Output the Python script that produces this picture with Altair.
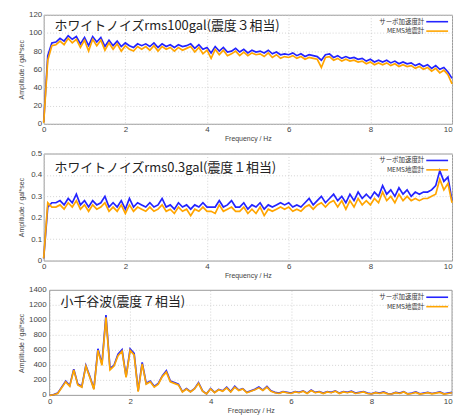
import altair as alt
import pandas as pd

freq = [round(i * 0.1, 1) for i in range(101)]
x_ticks = [0, 2, 4, 6, 8, 10]

series_names = ["サーボ加速度計", "MEMS地震計"]
series_colors = ["#2424ff", "#ffa500"]

titles = ["ホワイトノイズrms100gal(震度３相当)",
          "ホワイトノイズrms0.3gal(震度１相当)",
          "小千谷波(震度７相当)"]

# Panel 1: white noise rms100gal
p1_servo = [2, 75, 89, 90, 94, 91, 97, 93, 96, 88,
            95, 86, 96, 90, 95, 85, 92, 86, 91, 85,
            89, 86, 84, 88, 86, 88, 85, 89, 84, 88,
            85, 87, 84, 87, 85, 86, 88, 83, 87, 82,
            84, 78, 85, 80, 84, 79, 80, 83, 79, 82,
            78, 81, 79, 80, 78, 81, 77, 79, 76, 77,
            76, 78, 75, 77, 74, 76, 75, 74, 70, 76,
            77, 73, 75, 72, 74, 72, 73, 71, 72, 69,
            71, 68, 70, 68, 70, 67, 69, 66, 68, 66,
            67, 64, 66, 63, 65, 61, 64, 60, 62, 57,
            50]
p1_mems = [1, 70, 86, 87, 91, 87, 94, 89, 93, 84,
           92, 80, 93, 86, 92, 81, 89, 82, 88, 80,
           86, 82, 80, 85, 82, 85, 81, 86, 80, 85,
           82, 84, 80, 84, 81, 83, 85, 79, 84, 77,
           81, 72, 82, 76, 81, 75, 77, 80, 75, 79,
           75, 78, 76, 77, 74, 78, 73, 76, 72, 74,
           73, 75, 72, 74, 71, 73, 72, 71, 62, 73,
           74, 70, 72, 69, 71, 69, 70, 68, 69, 66,
           68, 65, 67, 65, 67, 64, 66, 63, 65, 63,
           64, 61, 63, 60, 62, 58, 61, 56, 59, 54,
           44]
p1_yticks = [0, 20, 40, 60, 80, 100, 120]

# Panel 2: white noise rms0.3gal
p2_servo = [0.01, 0.25, 0.27, 0.27, 0.28, 0.26, 0.29, 0.27, 0.31, 0.26,
            0.28, 0.25, 0.28, 0.26, 0.27, 0.30, 0.25, 0.27, 0.25, 0.28,
            0.24, 0.29, 0.25, 0.27, 0.26, 0.25, 0.27, 0.25, 0.26, 0.29,
            0.25, 0.26, 0.24, 0.27, 0.25, 0.26, 0.24, 0.26, 0.25, 0.27,
            0.25, 0.25, 0.25, 0.28, 0.25, 0.26, 0.28, 0.25, 0.25, 0.27,
            0.24, 0.26, 0.25, 0.27, 0.24, 0.26, 0.25, 0.26, 0.27, 0.26,
            0.27, 0.25, 0.26, 0.25, 0.27, 0.29, 0.26, 0.28, 0.30, 0.27,
            0.29, 0.31, 0.28, 0.30, 0.27, 0.31, 0.28, 0.32, 0.29, 0.31,
            0.29, 0.32, 0.30, 0.35, 0.31, 0.33, 0.30, 0.34, 0.31, 0.33,
            0.30, 0.32, 0.31, 0.32, 0.32, 0.33, 0.35, 0.42, 0.37, 0.39,
            0.28]
p2_mems = [0.01, 0.27, 0.25, 0.25, 0.26, 0.24, 0.27, 0.25, 0.28, 0.24,
           0.26, 0.23, 0.26, 0.24, 0.25, 0.27, 0.23, 0.25, 0.23, 0.26,
           0.22, 0.26, 0.23, 0.25, 0.24, 0.23, 0.25, 0.23, 0.24, 0.26,
           0.23, 0.24, 0.22, 0.25, 0.23, 0.24, 0.21, 0.24, 0.23, 0.25,
           0.23, 0.23, 0.22, 0.26, 0.23, 0.24, 0.25, 0.23, 0.23, 0.25,
           0.22, 0.24, 0.22, 0.25, 0.21, 0.24, 0.23, 0.24, 0.25, 0.24,
           0.25, 0.23, 0.24, 0.23, 0.25, 0.26, 0.24, 0.26, 0.27, 0.25,
           0.27, 0.28, 0.25, 0.28, 0.24, 0.28, 0.25, 0.29, 0.26, 0.28,
           0.26, 0.29, 0.27, 0.32, 0.28, 0.30, 0.27, 0.31, 0.28, 0.30,
           0.28, 0.29, 0.28, 0.29, 0.29, 0.30, 0.31, 0.38, 0.33, 0.36,
           0.27]
p2_yticks = [0, 0.1, 0.2, 0.3, 0.4, 0.5]

# Panel 3: Ojiya wave
p3_servo = [0, 10, 30, 110, 190, 130, 350, 150, 120, 400,
            250, 90, 620, 420, 1070, 360, 400, 550, 610, 250,
            620, 560, 60, 440, 160, 190, 120, 160, 260, 330,
            190, 170, 150, 50, 90, 50, 90, 170, 60, 20,
            90, 40, 80, 60, 110, 50, 120, 70, 90, 40,
            60, 80, 110, 70, 120, 60, 40, 30, 50, 40,
            30, 50, 40, 60, 30, 70, 40, 50, 30, 50,
            40, 60, 30, 50, 40, 55, 30, 40, 50, 30,
            20, 40, 30, 45, 25, 20, 40, 30, 50, 20,
            30, 45, 20, 30, 40, 25, 35, 45, 20, 30,
            40]
p3_mems = [0, 8, 25, 100, 180, 120, 340, 140, 110, 390,
           240, 80, 600, 400, 1040, 340, 390, 530, 590, 240,
           600, 540, 50, 420, 150, 180, 110, 150, 250, 310,
           180, 160, 140, 45, 85, 45, 85, 160, 55, 20,
           85, 35, 75, 55, 100, 45, 110, 65, 85, 35,
           55, 75, 100, 65, 110, 55, 35, 25, 45, 35,
           25, 45, 35, 55, 25, 65, 35, 45, 25, 45,
           35, 55, 25, 45, 35, 50, 25, 35, 45, 25,
           18, 35, 25, 40, 20, 18, 35, 25, 45, 18,
           25, 40, 18, 25, 35, 20, 30, 40, 18, 25,
           35]
p3_yticks = [0, 200, 400, 600, 800, 1000, 1200, 1400]

LABEL_FONT = "Liberation Sans"
JP_FONT = "Noto Sans CJK JP"
FRAME = "#9a9a9a"
GRID = "#c8c8c8"
LABEL_COLOR = "#444"


def panel(servo, mems, yticks, yfmt, title, w, h, title_y, xoff=0):
    n = len(freq)
    df = pd.DataFrame({
        "freq": freq + freq,
        "amp": servo + mems,
        "series": [series_names[0]] * n + [series_names[1]] * n,
    })
    if xoff:
        xscale = alt.Scale(domain=[0, 10], nice=False, range=[xoff, w])
    else:
        xscale = alt.Scale(domain=[0, 10], nice=False)
    xenc = alt.X("freq:Q", scale=xscale,
                 axis=alt.Axis(values=x_ticks, format="d", title="Frequency / Hz",
                               labelAlign={"expr": "datum.value == 10 ? 'right' : 'center'"}))
    if xoff:
        yaxis = alt.Axis(values=yticks, title="Amplitude / gal*sec", labels=False,
                         titleX=-19, titleBaseline="bottom", grid=False)
    else:
        yaxis = alt.Axis(values=yticks, format=yfmt, title="Amplitude / gal*sec",
                         labelOverlap=False, titleX=-19, titleBaseline="bottom")
    ydom = [yticks[0], yticks[-1]]
    yscale = alt.Scale(domain=ydom, nice=False)
    lines = alt.Chart(df).mark_line(strokeWidth=1.7).encode(
        x=xenc,
        y=alt.Y("amp:Q", scale=yscale, axis=yaxis),
        color=alt.Color("series:N", legend=None,
                        scale=alt.Scale(domain=series_names, range=series_colors)),
    )
    layers = []
    one = alt.Chart(pd.DataFrame({"k": [0]}))
    if xoff:
        tdf = pd.DataFrame({"g": yticks, "lab": [format(v, yfmt) for v in yticks]})
        grid = alt.Chart(tdf[1:-1]).mark_rule(
            color=GRID, strokeDash=[1, 2], strokeWidth=0.8).encode(
            y="g:Q", x=alt.value(xoff), x2=alt.value(w))
        ylabels = alt.Chart(tdf).mark_text(
            align="right", baseline="middle", font=LABEL_FONT, fontSize=8,
            color=LABEL_COLOR).encode(y="g:Q", x=alt.value(xoff - 3), text="lab:N")
        frame = one.mark_rect(fill="transparent", stroke=FRAME, strokeWidth=1).encode(
            x=alt.value(xoff), x2=alt.value(w), y=alt.value(0), y2=alt.value(h))
        layers += [grid, frame, ylabels]
    ttl = one.mark_text(align="left", baseline="middle", font=JP_FONT,
                        fontSize=13, color="#222").encode(
        x=alt.value(xoff + 11), y=alt.value(title_y), text=alt.value(title))
    leg = []
    for i, (nm, col) in enumerate(zip(series_names, series_colors)):
        yy = 7 + 9.5 * i
        leg.append(one.mark_text(align="right", baseline="middle", font=JP_FONT,
                                 fontSize=6.5, color="#333").encode(
            x=alt.value(w - 28), y=alt.value(yy), text=alt.value(nm)))
        leg.append(one.mark_rule(color=col, strokeWidth=1.6).encode(
            x=alt.value(w - 26), x2=alt.value(w - 4), y=alt.value(yy)))
    props = dict(width=w, height=h)
    if xoff:
        props["view"] = alt.ViewBackground(stroke="transparent")
    return alt.layer(*layers, lines, ttl, *leg).properties(**props)


W = 412
c1 = panel(p1_servo, p1_mems, p1_yticks, "d", titles[0], W, 110, 11)
c2 = panel(p2_servo, p2_mems, p2_yticks, "~g", titles[1], W, 108, 15)
c3 = panel(p3_servo, p3_mems, p3_yticks, "d", titles[2], W, 106, 12, xoff=6)

chart = alt.concat(c1, c2, c3, columns=1, spacing=6).resolve_scale(
    y="independent"
).properties(
    padding={"left": 9, "top": 0, "right": 0, "bottom": 0}
).configure_view(
    stroke=FRAME, strokeWidth=1
).configure_axis(
    labelFont=LABEL_FONT, labelFontSize=8, labelColor=LABEL_COLOR,
    titleFont=LABEL_FONT, titleFontSize=7, titleFontWeight="normal", titleColor="#444",
    grid=True, gridColor=GRID, gridDash=[1, 2], gridWidth=0.8,
    domain=False, ticks=False, labelPadding=2, titlePadding=1
)

chart.save("out.html", embed_options={"renderer": "svg", "actions": False})
